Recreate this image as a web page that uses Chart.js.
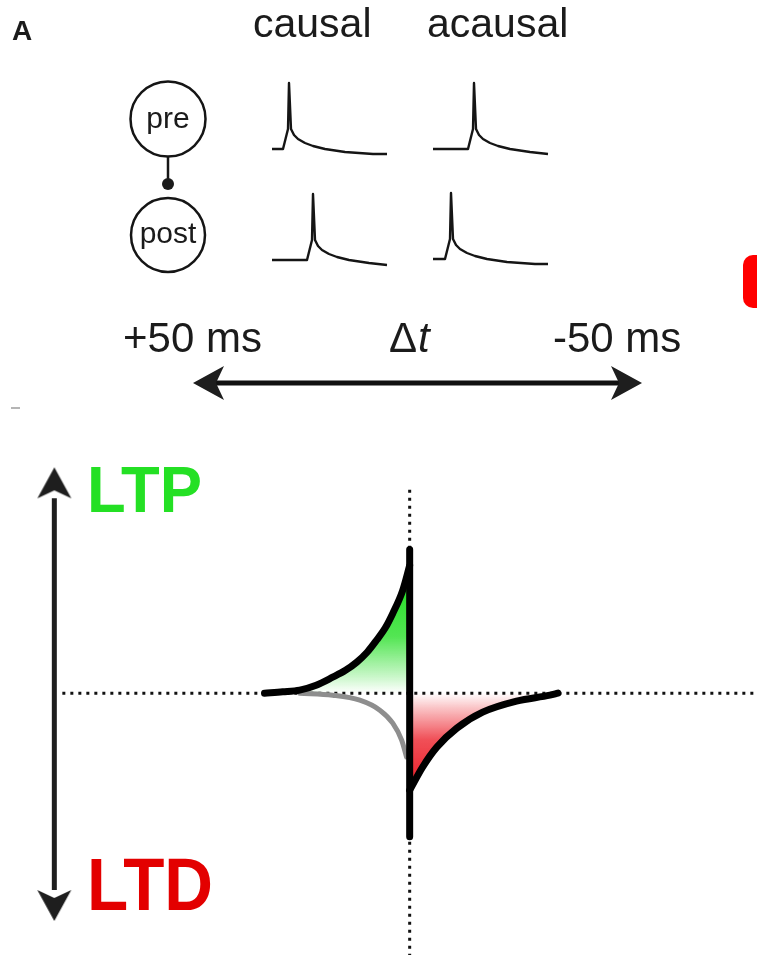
<!DOCTYPE html>
<html>
<head>
<meta charset="utf-8">
<script src="https://cdn.jsdelivr.net/npm/chart.js@4.4.1/dist/chart.umd.min.js"></script>
<style>
  html, body { margin: 0; padding: 0; background: #fff; }
  #wrap { position: relative; width: 757px; height: 955px; }
</style>
</head>
<body>
<div id="wrap"><canvas id="stdp"></canvas></div>
<script>
// STDP window, x = spike timing dt (ms, + on the left), y = relative weight change
const ltpDt = [32.6, 28.5, 24.7, 21.0, 17.3, 14.5, 11.9, 9.5, 7.4, 5.5, 3.8, 1.6, 0];
const ltpDw = [0, 0.01, 0.023, 0.06, 0.12, 0.17, 0.233, 0.31, 0.40, 0.49, 0.60, 0.77, 0.96];
const ltdDt = [0, -2.9, -6.1, -10.6, -16.4, -24.0, -31.5, -33.3];
const ltdDw = [-0.73, -0.556, -0.406, -0.263, -0.143, -0.06, -0.015, 0];
// grey branch (depression only)
const greyDt = [24.7, 17.3, 11.2, 6.7, 3.8, 1.8, 0.7];
const greyDw = [0, -0.015, -0.053, -0.128, -0.226, -0.353, -0.48];
const jumpDw = [1.08, -1.08];
const zeroLineDt = [78, -80];
const zeroLineDw = [1.53, -1.97];
const arrowDt = 79.8;
const arrowDw = [1.466, -1.481];
const dtRange = [-78, 92];
const dwRange = [-1.97, 1.98];

const conditions = ['causal', 'acausal'];
const neurons = ['pre', 'post'];
const timingLabels = ['+50 ms', '\u0394t', '-50 ms'];
const plasticity = ['LTP', 'LTD'];

// spike trace template: offsets (px) from spike onset
const spikeDx = [0, 5, 6, 8, 11, 15, 22, 30, 42, 62, 90];
const spikeDy = [0, -20, -66, -20, -14, -10, -6, -3, 0, 3, 5];
const onsets = { causal: [11, 35], acausal: [35, 12] };

const pts = (xs, ys) => xs.map((x, i) => ({ x: x, y: ys[i] }));

function arrowHead() {
  const cv = document.createElement('canvas');
  cv.width = 36; cv.height = 64;
  const g = cv.getContext('2d');
  g.fillStyle = '#1e1e1e';
  g.beginPath();
  g.moveTo(18, 1);
  g.lineTo(35, 32);
  g.lineTo(18, 24);
  g.lineTo(1, 32);
  g.closePath();
  g.fill();
  return cv;
}
const head = arrowHead();

function fitText(c, text, x, y, font, width) {
  c.save();
  c.font = font;
  const w = c.measureText(text).width;
  c.translate(x, y);
  c.scale(width / w, 1);
  c.fillText(text, 0, 0);
  c.restore();
}

function trace(c, x0, y0, onset) {
  c.beginPath();
  c.moveTo(x0, y0);
  let last = 0;
  spikeDx.forEach((dx, i) => {
    if (onset + dx <= 112) {
      c.lineTo(x0 + onset + dx, y0 + spikeDy[i]);
      last = spikeDy[i];
    }
  });
  c.lineTo(x0 + 115, y0 + Math.max(last, 5));
  c.stroke();
}

function hArrow(c, x1, x2, y) {
  c.fillRect(x1 + 20, y - 2.5, x2 - x1 - 40, 5);
  c.save(); c.translate(x1 + 32, y); c.rotate(-Math.PI / 2);
  c.drawImage(head, -18, -32); c.restore();
  c.save(); c.translate(x2 - 32, y); c.rotate(Math.PI / 2);
  c.drawImage(head, -18, -32); c.restore();
}

const panelA = {
  id: 'panelA',
  afterDraw(chart) {
    const c = chart.ctx;
    c.save();
    c.fillStyle = '#1b1b1b';
    c.strokeStyle = '#151515';
    c.textBaseline = 'alphabetic';
    c.font = 'bold 28px "Liberation Sans", Arial, sans-serif';
    c.fillText('A', 12, 40);
    c.font = '41px "Liberation Sans", Arial, sans-serif';
    c.fillText(conditions[0], 253, 37);
    c.fillText(conditions[1], 427, 37);

    // neurons
    c.lineWidth = 2.5;
    c.beginPath(); c.arc(168, 119, 37.5, 0, Math.PI * 2); c.stroke();
    c.beginPath(); c.arc(168, 235, 37, 0, Math.PI * 2); c.stroke();
    c.beginPath(); c.moveTo(168, 157); c.lineTo(168, 180); c.stroke();
    c.beginPath(); c.arc(168, 184, 6, 0, Math.PI * 2); c.fill();
    c.textAlign = 'center';
    c.font = '30px "Liberation Sans", Arial, sans-serif';
    c.fillText(neurons[0], 168, 128);
    c.fillText(neurons[1], 168, 243);
    c.textAlign = 'left';

    // spike traces
    c.lineWidth = 2.4;
    c.lineJoin = 'round';
    trace(c, 272, 149, onsets.causal[0]);
    trace(c, 272, 260, onsets.causal[1]);
    trace(c, 433, 149, onsets.acausal[0]);
    trace(c, 433, 259, onsets.acausal[1]);

    // timing axis
    c.font = '42px "Liberation Sans", Arial, sans-serif';
    c.fillText(timingLabels[0], 123, 352);
    c.fillText(timingLabels[2], 553, 352);
    const d = timingLabels[1];
    c.fillText(d[0], 389, 352);
    const dw = c.measureText(d[0]).width;
    c.font = 'italic 42px "Liberation Sans", Arial, sans-serif';
    c.fillText(d.slice(1), 389 + dw + 1, 352);
    c.fillStyle = '#111';
    hArrow(c, 192, 643, 383);

    // stray marks
    c.fillStyle = '#f00';
    c.beginPath(); c.roundRect(743, 255, 30, 53, 10); c.fill();
    c.fillStyle = '#b5b5b5';
    c.fillRect(11, 407, 9, 2);

    // LTP / LTD labels
    c.fillStyle = '#24e024';
    fitText(c, plasticity[0], 87, 512, 'bold 65px "Liberation Sans", Arial, sans-serif', 115);
    c.fillStyle = '#e30000';
    fitText(c, plasticity[1], 87, 910, 'bold 74px "Liberation Sans", Arial, sans-serif', 126);
    c.restore();
  }
};

function gradFill(top, rgb) {
  return (context) => {
    const chart = context.chart;
    const { ctx, chartArea, scales } = chart;
    if (!chartArea) return 'rgba(0,0,0,0)';
    const y0 = scales.y.getPixelForValue(0);
    const y1 = scales.y.getPixelForValue(top);
    const g = ctx.createLinearGradient(0, y1, 0, y0);
    g.addColorStop(0, 'rgba(' + rgb + ',1)');
    g.addColorStop(0.5, 'rgba(' + rgb + ',0.78)');
    g.addColorStop(0.85, 'rgba(' + rgb + ',0.25)');
    g.addColorStop(1, 'rgba(' + rgb + ',0)');
    return g;
  };
}

const dotted = {
  showLine: true, borderColor: '#111', borderWidth: 3, borderDash: [3, 5],
  pointRadius: 0, tension: 0, fill: false, order: 10
};
const curve = {
  showLine: true, borderColor: '#000', borderWidth: 7,
  borderCapStyle: 'round', borderJoinStyle: 'round',
  pointRadius: 0, cubicInterpolationMode: 'monotone', tension: 0.4
};

new Chart(document.getElementById('stdp'), {
  type: 'scatter',
  data: {
    datasets: [
      Object.assign({}, dotted, { label: 'dw=0', data: pts(zeroLineDt, [0, 0]) }),
      Object.assign({}, dotted, { label: 'dt=0', data: pts([0, 0], zeroLineDw) }),
      Object.assign({}, curve, { label: 'grey', data: pts(greyDt, greyDw), borderColor: '#8e8e8e', borderWidth: 5, fill: false, order: 8 }),
      Object.assign({}, curve, { label: 'LTP', data: pts(ltpDt, ltpDw), fill: 'origin', backgroundColor: gradFill(0.85, '35,222,35'), order: 6 }),
      Object.assign({}, curve, { label: 'LTD', data: pts(ltdDt, ltdDw), fill: 'origin', backgroundColor: gradFill(-0.7, '236,30,40'), order: 6 }),
      { label: 'jump', showLine: true, data: pts([0, 0], jumpDw), borderColor: '#000', borderWidth: 7, borderCapStyle: 'round', pointRadius: 0, tension: 0, order: 5 },
      { label: 'axis', showLine: true, data: pts([arrowDt, arrowDt], arrowDw), borderColor: '#1e1e1e', borderWidth: 5,
        pointRadius: 5, pointStyle: [head, head], rotation: [0, 180], tension: 0, clip: false, order: 4 }
    ]
  },
  options: {
    animation: false,
    responsive: true,
    maintainAspectRatio: false,
    events: [],
    layout: { autoPadding: false, padding: { top: 430, left: 0, right: 0, bottom: 0 } },
    plugins: { legend: { display: false }, tooltip: { enabled: false } },
    scales: {
      x: { type: 'linear', reverse: true, min: dtRange[0], max: dtRange[1], display: false },
      y: { type: 'linear', min: dwRange[0], max: dwRange[1], display: false }
    }
  },
  plugins: [panelA]
});
</script>
</body>
</html>
